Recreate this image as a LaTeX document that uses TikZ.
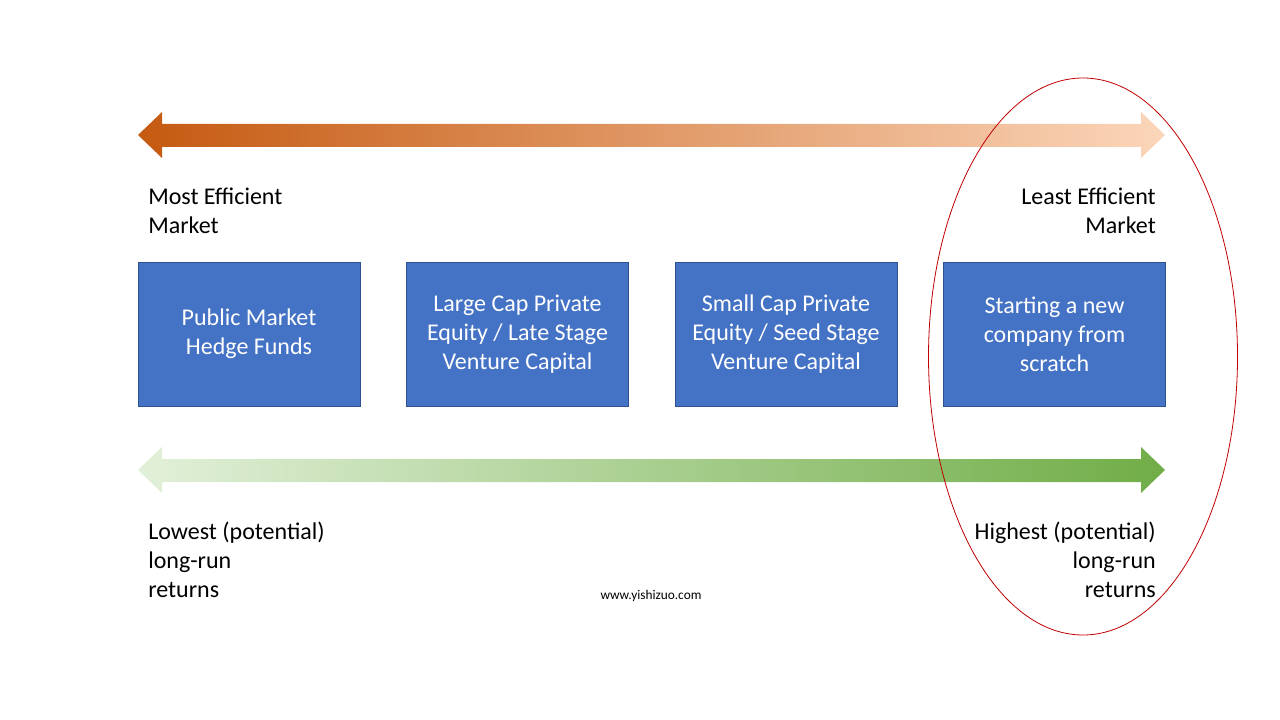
\documentclass[tikz,border=0pt]{standalone}
\usepackage{fontspec}
\setmainfont{Carlito}
\usetikzlibrary{positioning}
\begin{document}
\begin{tikzpicture}[x=0.75pt,y=-0.75pt,
        caja/.style={draw=bborde,fill=bblue,text=white,minimum width=166.5pt,minimum height=108pt,align=center,inner sep=0pt,font=\fontsize{18}{21.75}\selectfont},
        etiqueta/.style={inner sep=0pt,font=\fontsize{18}{21.75}\selectfont}]
        %colores
        \definecolor{bblue}{HTML}{4472C4}
        \definecolor{bborde}{HTML}{2F528F}
        \definecolor{naranja}{HTML}{C55A11}
        \definecolor{naranjaclaro}{HTML}{FBD6BA}
        \definecolor{verdeclaro}{HTML}{E2F0D9}
        \definecolor{verde}{HTML}{70AD47}
        \definecolor{rojo}{HTML}{C00000}

        \useasboundingbox (0,0) rectangle (1280,720);

        % Flecha superior
        \shade[left color=naranja,right color=naranjaclaro] (138,135) -- (162,112) -- (162,124) -- (1141,124) -- (1141,112) -- (1165,135) -- (1141,158) -- (1141,147) -- (162,147) -- (162,158) -- cycle;
        % Flecha inferior
        \shade[left color=verdeclaro,right color=verde] (138,470) -- (162,447) -- (162,459) -- (1141,459) -- (1141,447) -- (1165,470) -- (1141,493) -- (1141,482) -- (162,482) -- (162,493) -- cycle;

        % Cajas
        \node[caja] (publico) at (249,334) {Public Market\\Hedge Funds};
        \node[caja] (grande) at (517.5,334) {Large Cap Private\\Equity / Late Stage\\Venture Capital};
        \node[caja] (pequeno) at (786,334) {Small Cap Private\\Equity / Seed Stage\\Venture Capital};
        \node[caja] (nuevo) at (1054.5,334) {Starting a new\\company from\\scratch};

        % Etiquetas
        \node[etiqueta,anchor=west,align=left] (eficiente) at (148,210.5) {Most Efficient\\Market};
        \node[etiqueta,anchor=east,align=right] (ineficiente) at (1156,210.5) {Least Efficient\\Market};
        \node[etiqueta,anchor=west,align=left] (bajo) at (148,560) {Lowest (potential)\\long-run\\returns};
        \node[etiqueta,anchor=east,align=right] (alto) at (1156,560) {Highest (potential)\\long-run\\returns};
        \node[inner sep=0pt,font=\fontsize{10}{12}\selectfont] (web) at (651,596) {www.yishizuo.com};

        % Elipse
        \draw[rojo,line width=0.6pt] (1083,356.5) ellipse [x radius=154.5,y radius=278.5];
    \end{tikzpicture}
\end{document}
